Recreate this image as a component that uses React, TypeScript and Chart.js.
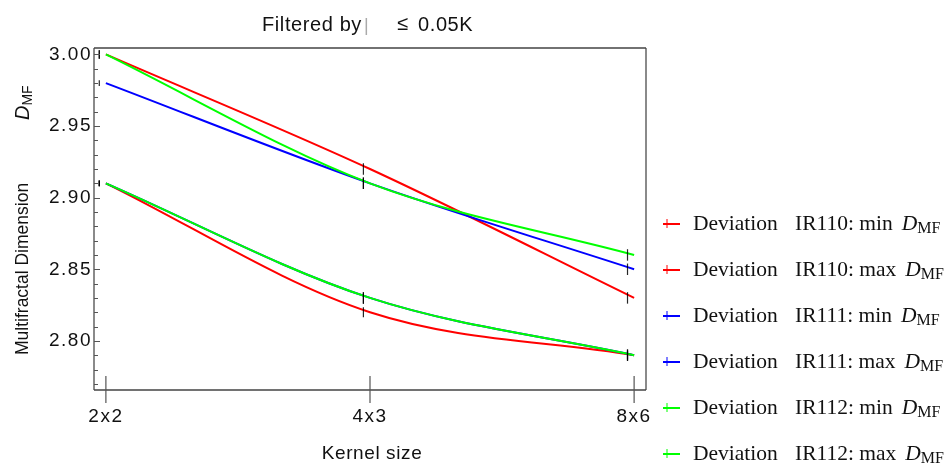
import React, { useEffect, useRef } from "react";
import { Chart, registerables } from "chart.js";

Chart.register(...registerables);

// ---------- data ----------
const categories = ["2x2", "4x3", "8x6"];
const xPositions = [1, 2, 3];

const ir110Min = [2.91, 2.82, 2.79];
const ir110Max = [3.0, 2.92, 2.83];
const ir111Min = [2.91, 2.83, 2.79];
const ir111Max = [2.98, 2.91, 2.85];
const ir112Min = [2.91, 2.83, 2.79];
const ir112Max = [3.0, 2.91, 2.86];

const ir110MinErr = [0.002, 0.0035, 0.003];
const ir110MaxErr = [0.003, 0.004, 0.004];
const ir111MinErr = [0.002, 0.004, 0.004];
const ir111MaxErr = [0.002, 0.004, 0.004];
const ir112MinErr = [0.002, 0.004, 0.004];
const ir112MaxErr = [0.003, 0.004, 0.004];

const seriesLabels = ["IR110: min", "IR110: max", "IR111: min", "IR111: max", "IR112: min", "IR112: max"];
const yMajorTicks = [2.8, 2.85, 2.9, 2.95, 3.0];
const yMinorTicks = [2.77, 2.78, 2.79, 2.81, 2.82, 2.83, 2.84, 2.86, 2.87, 2.88, 2.89, 2.91, 2.92, 2.93, 2.94, 2.96, 2.97, 2.98, 2.99];

const RED = "#ff0000";
const BLUE = "#0000ff";
const GREEN = "#00ff00";
const SANS = '"Liberation Sans", Arial, sans-serif';
const SERIF = '"Liberation Serif", "Times New Roman", serif';

const seriesValues = [ir110Min, ir110Max, ir111Min, ir111Max, ir112Min, ir112Max];
const seriesErrors = [ir110MinErr, ir110MaxErr, ir111MinErr, ir111MaxErr, ir112MinErr, ir112MaxErr];
const seriesColors = [RED, RED, BLUE, BLUE, GREEN, GREEN];
const seriesOrder = [2, 2, 1, 1, 0, 0];
const errXShift = -0.025;

const overlay = {
  id: "overlay",
  beforeDraw(chart: any) {
    (chart.ctx as any).letterSpacing = "1.5px";
  },
  afterDatasetsDraw(chart: any) {
    const ctx = chart.ctx;
    const xs = chart.scales.x;
    const ys = chart.scales.y;
    ctx.save();
    ctx.strokeStyle = "rgba(0,0,0,0.85)";
    ctx.lineWidth = 1.2;
    seriesValues.forEach((vals, si) => {
      vals.forEach((v, i) => {
        const e = seriesErrors[si][i];
        const px = xs.getPixelForValue(xPositions[i] + errXShift);
        ctx.beginPath();
        ctx.moveTo(px, ys.getPixelForValue(v - e));
        ctx.lineTo(px, ys.getPixelForValue(v + e));
        ctx.stroke();
      });
    });
    ctx.restore();
  },
  afterDraw(chart: any) {
    const ctx = chart.ctx;
    const { left, right, top, bottom } = chart.chartArea;
    const xs = chart.scales.x;
    const ys = chart.scales.y;
    ctx.save();

    // frame
    ctx.lineWidth = 2;
    ctx.strokeStyle = "#8a8a8a";
    ctx.beginPath();
    ctx.moveTo(left, top);
    ctx.lineTo(left, bottom);
    ctx.moveTo(right, top);
    ctx.lineTo(right, bottom);
    ctx.stroke();
    ctx.lineWidth = 1.5;
    ctx.strokeStyle = "#444";
    ctx.beginPath();
    ctx.moveTo(left, top);
    ctx.lineTo(right, top);
    ctx.moveTo(left, bottom);
    ctx.lineTo(right, bottom);
    ctx.stroke();

    // y ticks (inward)
    ctx.strokeStyle = "#555";
    ctx.lineWidth = 1;
    ctx.beginPath();
    yMajorTicks.forEach((v) => {
      const py = Math.round(ys.getPixelForValue(v)) + 0.5;
      ctx.moveTo(left, py);
      ctx.lineTo(left + 6, py);
    });
    yMinorTicks.forEach((v) => {
      const py = Math.round(ys.getPixelForValue(v)) + 0.5;
      ctx.moveTo(left, py);
      ctx.lineTo(left + 4, py);
    });
    ctx.stroke();

    // x ticks (crossing)
    ctx.strokeStyle = "#555";
    ctx.lineWidth = 1.2;
    ctx.beginPath();
    xPositions.forEach((v) => {
      const px = xs.getPixelForValue(v);
      ctx.moveTo(px, bottom - 14);
      ctx.lineTo(px, bottom + 13);
    });
    ctx.stroke();

    // title
    ctx.letterSpacing = "0.6px";
    ctx.fillStyle = "#111";
    ctx.textBaseline = "middle";
    ctx.textAlign = "left";
    ctx.font = `20px ${SANS}`;
    ctx.fillText("Filtered by", 262, 25);
    ctx.fillStyle = "#aaa";
    ctx.font = `18px ${SANS}`;
    ctx.fillText("|", 364, 26);
    ctx.fillStyle = "#111";
    ctx.font = `20px ${SANS}`;
    ctx.fillText("≤", 397, 24);
    ctx.fillText("0.05K", 418, 25);

    // x axis title
    ctx.textAlign = "left";
    ctx.font = `19px ${SANS}`;
    const kw = ctx.measureText("Kernel size").width;
    ctx.fillText("Kernel size", (left + right) / 2 - kw / 2 + 2, 454);

    // y axis title
    ctx.letterSpacing = "0px";
    ctx.save();
    ctx.translate(23, 355);
    ctx.rotate(-Math.PI / 2);
    ctx.textAlign = "left";
    ctx.textBaseline = "middle";
    ctx.font = `17.5px ${SANS}`;
    ctx.fillText("Multifractal Dimension", 0, 0);
    ctx.font = `italic 20px ${SANS}`;
    ctx.fillText("D", 235, 0);
    const dW = ctx.measureText("D").width;
    ctx.font = `14px ${SANS}`;
    ctx.fillText("MF", 235 + dW, 5);
    ctx.restore();

    // legend
    const legendTop = 224;
    const legendGap = 46;
    seriesLabels.forEach((lab, i) => {
      const yy = legendTop + legendGap * i;
      ctx.strokeStyle = seriesColors[i];
      ctx.lineWidth = 2;
      ctx.beginPath();
      ctx.moveTo(663, yy);
      ctx.lineTo(680, yy);
      ctx.stroke();
      ctx.lineWidth = 1;
      ctx.beginPath();
      ctx.moveTo(667, yy - 5);
      ctx.lineTo(667, yy + 4);
      ctx.stroke();

      ctx.fillStyle = "#111";
      ctx.textAlign = "left";
      ctx.textBaseline = "middle";
      ctx.font = `21.5px ${SERIF}`;
      ctx.fillText("Deviation", 693, yy);
      ctx.fillText(lab, 795, yy);
      const lw = ctx.measureText(lab).width;
      ctx.font = `italic 21.5px ${SERIF}`;
      const dx = 795 + lw + 9;
      ctx.fillText("D", dx, yy);
      const dw = ctx.measureText("D").width;
      ctx.font = `16px ${SERIF}`;
      ctx.fillText("MF", dx + dw, yy + 5);
    });

    ctx.restore();
    (ctx as any).letterSpacing = "0px";
  },
};

export default function App() {
  const canvasRef = useRef<HTMLCanvasElement | null>(null);

  useEffect(() => {
    if (!canvasRef.current) return;
    const datasets = seriesValues.map((vals, si) => ({
      label: seriesLabels[si],
      data: vals.map((v, i) => ({ x: xPositions[i], y: v })),
      borderColor: seriesColors[si],
      backgroundColor: seriesColors[si],
      borderWidth: 2,
      pointRadius: 0,
      fill: false,
      cubicInterpolationMode: "monotone" as const,
      order: seriesOrder[si],
    }));

    const chart = new Chart(canvasRef.current, {
      type: "line",
      data: { datasets },
      options: {
        animation: false,
        responsive: true,
        maintainAspectRatio: false,
        layout: { padding: { left: 0, top: 48, right: 305, bottom: 0 } },
        plugins: {
          legend: { display: false },
          tooltip: { enabled: false },
          title: { display: false },
        },
        scales: {
          x: {
            type: "linear",
            min: 0.955,
            max: 3.045,
            grid: { display: false, drawTicks: false },
            border: { display: false },
            afterBuildTicks: (axis: any) => {
              axis.ticks = xPositions.map((v) => ({ value: v }));
            },
            afterFit: (axis: any) => {
              axis.height = 78;
            },
            ticks: {
              autoSkip: false,
              maxRotation: 0,
              padding: 15,
              color: "#111",
              font: { family: SANS, size: 19 },
              callback: (v: any) => categories[xPositions.indexOf(Number(v))] ?? "",
            },
          },
          y: {
            type: "linear",
            min: 2.7657,
            max: 3.0045,
            grid: { display: false, drawTicks: false },
            border: { display: false },
            afterBuildTicks: (axis: any) => {
              axis.ticks = yMajorTicks.map((v) => ({ value: v }));
            },
            afterFit: (axis: any) => {
              axis.width = 94;
            },
            ticks: {
              autoSkip: false,
              padding: 2,
              color: "#111",
              font: { family: SANS, size: 19 },
              callback: (v: any) => Number(v).toFixed(2),
            },
          },
        },
      },
      plugins: [overlay],
    });
    return () => chart.destroy();
  }, []);

  return (
    <div style={{ position: "fixed", left: 0, top: 0, width: 951, height: 468, background: "#fff" }}>
      <canvas ref={canvasRef} />
    </div>
  );
}
